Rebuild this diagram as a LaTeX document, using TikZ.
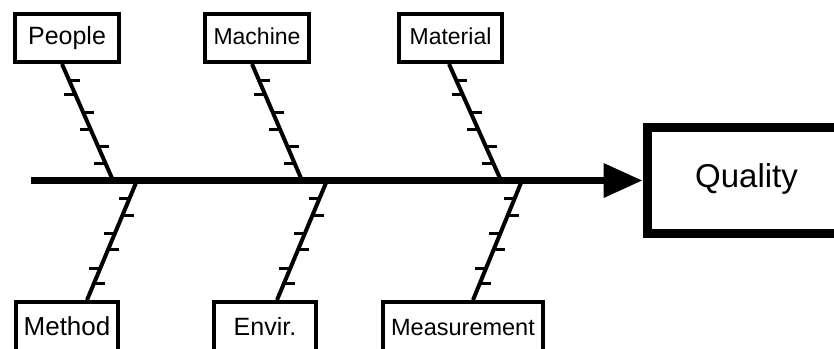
\documentclass[tikz,border=0pt]{standalone}
\usepackage{fontspec}
\setmainfont{Liberation Sans}
\usetikzlibrary{arrows.meta,calc}
\begin{document}
\begin{tikzpicture}[x=1pt,y=-1pt,
  cause/.style={draw, line width=4pt, inner sep=0pt, minimum height=48pt,
                text height=30pt, text depth=18pt},
  lowcause/.style={draw, line width=4pt, inner sep=0pt, minimum height=73pt,
                text height=33pt, text depth=40pt},
  effect/.style={draw, line width=9pt, inner sep=0pt, minimum width=199pt,
                minimum height=106pt, text height=59.5pt, text depth=46.5pt,
                font=\fontsize{33}{38}\selectfont},
  spine/.style={line width=7pt, -{Triangle[length=39pt,width=33pt]}},
  bone/.style={line width=4pt},
  tick/.style={line width=3pt}]
\useasboundingbox (0,0) rectangle (834,348);
\clip (0,0) rectangle (834,348);

% effect box
\node[effect] (Q) at (746.5,180.5) {Quality};

% cause boxes above the spine
\node[cause, minimum width=104pt, font=\fontsize{25}{30}\selectfont] (P) at (67,38) {People};
\node[cause, minimum width=104pt, font=\fontsize{23}{28}\selectfont] (M) at (257,38) {Machine};
\node[cause, minimum width=103pt, font=\fontsize{23}{28}\selectfont] (T) at (450.5,38) {Material};

% cause boxes below the spine
\node[lowcause, minimum width=102pt, font=\fontsize{26}{30}\selectfont] (H) at (67,338.5) {Method};
\node[lowcause, minimum width=102pt, font=\fontsize{25}{30}\selectfont] (E) at (265,338.5) {Envir.};
\node[lowcause, minimum width=160pt, font=\fontsize{23.5}{28}\selectfont] (S) at (463,338.5) {Measurement};

% spine and its joints
\coordinate (tail) at (31,180.5);
\coordinate (sP) at (113,180.5);
\coordinate (sM) at (302,180.5);
\coordinate (sT) at (501,180.5);
\coordinate (sH) at (137,180.5);
\coordinate (sE) at (327,180.5);
\coordinate (sS) at (522,180.5);
\draw[spine] (tail) -- (Q.west);

% bone ends at the boxes
\coordinate (bP) at ([xshift=-5pt]P.south);
\coordinate (bM) at ([xshift=-5pt]M.south);
\coordinate (bT) at ([xshift=-1.5pt]T.south);
\coordinate (bH) at ([xshift=20pt]H.north);
\coordinate (bE) at ([xshift=12pt]E.north);
\coordinate (bS) at ([xshift=10pt]S.north);

\foreach \u/\v in {bP/sP, bM/sM, bT/sT, bH/sH, bE/sE, bS/sS} {
  \draw[bone] (\u) -- (\v);
  \foreach \f/\d in {0.14/1, 0.26/-1, 0.42/1, 0.56/-1, 0.71/1, 0.85/-1}
    \draw[tick] ($(\u)!\f!(\v)$) -- ++(\d*11,0);
}
\end{tikzpicture}
\end{document}
